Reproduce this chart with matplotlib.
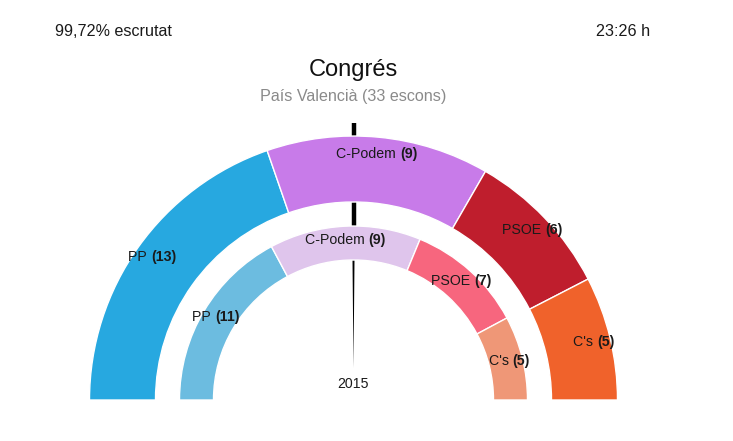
import matplotlib
matplotlib.use("Agg")
import matplotlib.pyplot as plt
from matplotlib.patches import Wedge, Polygon
import numpy as np

# ---- data ----
parties = ["PP", "C-Podem", "PSOE", "C's"]
seats_now = [13, 9, 6, 5]
seats_2015 = [11, 9, 7, 5]
header_left = "99,72% escrutat"
header_right = "23:26 h"
title = "Congrés"
subtitle = "País Valencià (33 escons)"
inner_label = "2015"

# ---- style ----
colors_now = ["#27a8e0", "#c87be9", "#bf1e2d", "#f0622b"]
colors_2015 = ["#6cbce0", "#dfc5ec", "#f7667e", "#ef9777"]

plt.rcParams["font.family"] = ["Liberation Sans", "DejaVu Sans"]

W, H = 733, 441
fig = plt.figure(figsize=(W / 100, H / 100), dpi=100)
ax = fig.add_axes([0, 0, 1, 1])
ax.set_xlim(0, W)
ax.set_ylim(0, H)
ax.axis("off")

cx, cy = 353.5, H - 400

# needle behind the rings
ax.plot([cx, cx], [cy + 174, cy + 277], color="black", lw=3.2,
        solid_capstyle="butt", zorder=1)
taper = Polygon([[cx - 1.0, cy + 140], [cx + 1.0, cy + 140], [cx, cy + 32]],
                closed=True, facecolor="black", edgecolor="none", zorder=1)
ax.add_patch(taper)

labels = []


def add_label(x, y, name, v):
    t1 = ax.text(x, y, name + " ", ha="left", va="center", fontsize=10.2,
                 color="#1a1a1a", zorder=5)
    t2 = ax.text(x, y, f"({v})", ha="left", va="center", fontsize=10.2,
                 fontweight="bold", color="#1a1a1a", zorder=5)
    labels.append((t1, t2, x, y))


def draw_ring(values, colors, r_in, r_out, r_lab):
    total = sum(values)
    start = 0.0
    for name, v, c in zip(parties, values, colors):
        a0 = 180 - start / total * 180
        a1 = 180 - (start + v) / total * 180
        ax.add_patch(Wedge((cx, cy), r_out, a1, a0, width=r_out - r_in,
                           facecolor=c, edgecolor="white", lw=1.0, zorder=2))
        mid = np.deg2rad((a0 + a1) / 2)
        lx = cx + r_lab * np.cos(mid)
        ly = cy + r_lab * np.sin(mid)
        add_label(lx, ly, name, v)
        start += v


draw_ring(seats_now, colors_now, 198, 264, 247)
draw_ring(seats_2015, colors_2015, 140, 174, 160.5)

fig.canvas.draw()
r = fig.canvas.get_renderer()
for t1, t2, x, y in labels:
    w1 = t1.get_window_extent(r).width
    w2 = t2.get_window_extent(r).width
    left = x - (w1 + w2) / 2
    t1.set_position((left, y))
    t2.set_position((left + w1, y))

ax.text(cx, H - 384, inner_label, ha="center", va="center", fontsize=10.2,
        color="#1a1a1a")
ax.text(55, H - 31, header_left, ha="left", va="center", fontsize=11.6,
        color="#1a1a1a")
ax.text(650, H - 31, header_right, ha="right", va="center", fontsize=11.6,
        color="#1a1a1a")
ax.text(cx, H - 70, title, ha="center", va="center", fontsize=17,
        color="#111111")
ax.text(cx, H - 97, subtitle, ha="center", va="center", fontsize=11.6,
        color="#8a8a8a")

fig.savefig("out.png", dpi=100)
